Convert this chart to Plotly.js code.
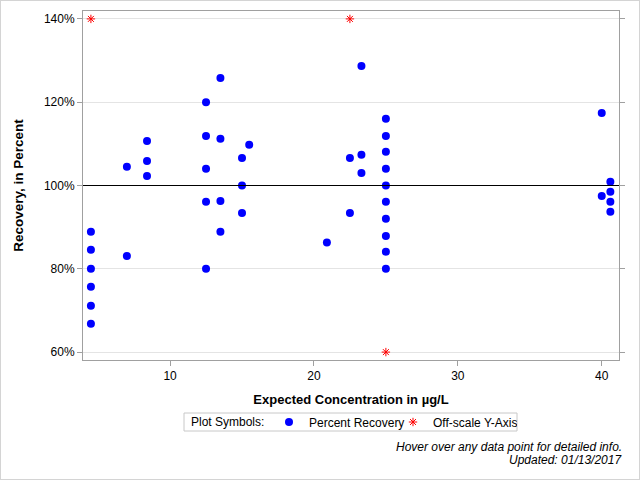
<!DOCTYPE html>
<html><head><meta charset="utf-8">
<script src="https://cdn.plot.ly/plotly-3.0.1.min.js"></script>
<style>html,body{margin:0;padding:0;background:#fff}#wrap{width:640px;height:480px;box-sizing:border-box;border:1px solid #d4d4d4}#chart{width:638px;height:478px}</style>
</head><body><div id="wrap"><div id="chart"></div></div>
<script>
// Percent recovery data (expected concentration µg/L, recovery %)
const recX = [4.5,4.5,4.5,4.5,4.5,4.5, 7.0,7.0, 8.4,8.4,8.4, 12.5,12.5,12.5,12.5,12.5, 13.5,13.5,13.5,13.5, 15.0,15.0,15.0, 15.5, 20.9, 22.5,22.5, 23.3,23.3,23.3, 25,25,25,25,25,25,25,25,25,25, 40.0,40.0, 40.6,40.6,40.6,40.6];
const recY = [88.9,84.6,80.0,75.7,71.1,66.8, 104.5,83.1, 110.7,105.9,102.3, 120.0,111.9,104.0,96.1,80.0, 125.8,111.2,96.3,88.9, 106.6,100.0,93.4, 109.8, 86.3, 106.6,93.4, 128.7,107.4,103.0, 116.0,111.9,108.1,104.0,100.0,96.1,92.0,87.9,84.1,80.0, 117.4,97.5, 100.9,98.5,96.1,93.7];
// Off-scale points plotted at axis limits
const offX = [4.5, 22.5, 25];
const offY = [140, 140, 60];
const yTicks = [60, 80, 100, 120, 140];
const yTickText = ['60%', '80%', '100%', '120%', '140%'];
const xTicks = [10, 20, 30, 40];

const font = 'Liberation Sans, Arial, sans-serif';
const traces = [
  {x: recX, y: recY, mode: 'markers', type: 'scatter', name: 'Percent Recovery',
   marker: {color: '#0000ff', size: 8, symbol: 'circle'}},
  {x: offX, y: offY, mode: 'markers', type: 'scatter', name: 'Off-scale Y-Axis',
   marker: {color: '#ff0000', size: 7, symbol: 'asterisk-open', line: {color: '#ff0000', width: 1}}}
];
const px = v => (v - 83) / 536;
const py = v => (360 - v) / 349;
const layout = {
  width: 638, height: 478,
  margin: {l: 82, r: 20, t: 10, b: 119},
  paper_bgcolor: '#fff', plot_bgcolor: '#fff',
  font: {family: font, size: 12, color: '#000'},
  showlegend: true,
  xaxis: {range: [3.95, 41.2], tickvals: xTicks, showgrid: false, zeroline: false,
    showline: true, linecolor: '#a0a0a0', mirror: true, ticks: 'outside', ticklen: 5, tickcolor: '#a0a0a0',
    tickfont: {size: 12},
    title: {text: 'Expected Concentration in µg/L', font: {size: 13, weight: 'bold'}, standoff: 12}},
  yaxis: {range: [58.1, 141.9], tickvals: yTicks, ticktext: yTickText, showgrid: true, gridcolor: '#e4e4e4',
    zeroline: false, showline: true, linecolor: '#a0a0a0', mirror: 'ticks', ticks: 'outside', ticklen: 5, tickcolor: '#a0a0a0',
    tickfont: {size: 12},
    title: {text: 'Recovery, in Percent', font: {size: 13.5, weight: 'bold'}, standoff: 17}},
  shapes: [
    {type: 'line', xref: 'paper', x0: 0, x1: 1, yref: 'y', y0: 100, y1: 100, line: {color: '#000', width: 1}},
    {type: 'rect', xref: 'paper', yref: 'paper', x0: px(184), x1: px(517), y0: py(413), y1: py(431),
     line: {color: '#c8c8c8', width: 1}, fillcolor: 'rgba(0,0,0,0)'}
  ],
  legend: {orientation: 'h', x: px(269), xanchor: 'left', y: py(422), yanchor: 'middle',
    borderwidth: 0, bgcolor: 'rgba(0,0,0,0)', font: {size: 12},
    itemwidth: 30, entrywidth: 79, entrywidthmode: 'pixels', tracegroupgap: 0},
  annotations: [
    {text: 'Plot Symbols:', xref: 'paper', yref: 'paper', x: px(189), y: py(422),
     xanchor: 'left', yanchor: 'middle', showarrow: false, font: {size: 12}},
    {text: '<i>Hover over any data point for detailed info.</i>', xref: 'paper', yref: 'paper', x: px(624), y: py(447),
     xanchor: 'right', yanchor: 'middle', showarrow: false, font: {size: 12}},
    {text: '<i>Updated: 01/13/2017</i>', xref: 'paper', yref: 'paper', x: px(624), y: py(460),
     xanchor: 'right', yanchor: 'middle', showarrow: false, font: {size: 12}}
  ]
};
Plotly.newPlot('chart', traces, layout, {displayModeBar: false});
</script></body></html>
